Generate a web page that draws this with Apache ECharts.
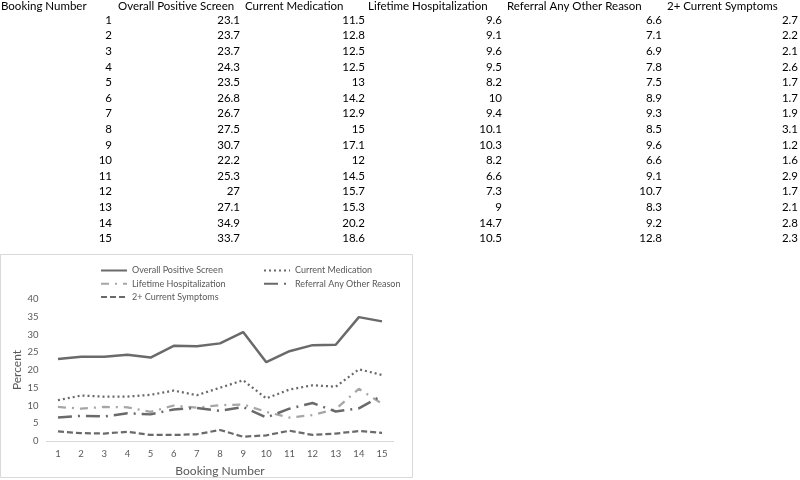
<!DOCTYPE html>
<html>
<head>
<meta charset="utf-8">
<script src="https://cdn.jsdelivr.net/npm/echarts@6/dist/echarts.min.js"></script>
<style>html,body{margin:0;padding:0;background:#fff}#c{width:800px;height:480px}</style>
</head>
<body>
<div id="c"></div>
<script>
const categories = ['1','2','3','4','5','6','7','8','9','10','11','12','13','14','15'];
const overallPositive = [23.1,23.7,23.7,24.3,23.5,26.8,26.7,27.5,30.7,22.2,25.3,27,27.1,34.9,33.7];
const currentMedication = [11.5,12.8,12.5,12.5,13,14.2,12.9,15,17.1,12,14.5,15.7,15.3,20.2,18.6];
const lifetimeHosp = [9.6,9.1,9.6,9.5,8.2,10,9.4,10.1,10.3,8.2,6.6,7.3,9,14.7,10.5];
const referralOther = [6.6,7.1,6.9,7.8,7.5,8.9,9.3,8.5,9.6,6.6,9.1,10.7,8.3,9.2,12.8];
const currentSymptoms = [2.7,2.2,2.1,2.6,1.7,1.7,1.9,3.1,1.2,1.6,2.9,1.7,2.1,2.8,2.3];
const tableHeaders = ['Booking Number','Overall Positive Screen','Current Medication','Lifetime Hospitalization','Referral Any Other Reason','2+ Current Symptoms'];
const seriesNames = ['Overall Positive Screen','Current Medication','Lifetime Hospitalization','Referral Any Other Reason','2+ Current Symptoms'];
const yTicks = [0,5,10,15,20,25,30,35,40];

const tableCols = [categories, overallPositive, currentMedication, lifetimeHosp, referralOther, currentSymptoms];
const headerX = [1, 118, 245, 368, 507, 667];
const valueRight = [112, 240, 365, 502, 662, 798];
const FONT = 'Lato, "Open Sans", sans-serif';

const graphics = [];
tableHeaders.forEach((h, i) => {
  graphics.push({type:'text', x: headerX[i], y: 6, style:{text:h, font:'11.5px '+FONT, fill:'#000', align:'left', verticalAlign:'middle'}});
});
tableCols.forEach((col, ci) => {
  col.forEach((v, ri) => {
    graphics.push({type:'text', x: valueRight[ci], y: 20 + ri*15.6, style:{text:String(v), font:'11.5px '+FONT, fill:'#000', align:'right', verticalAlign:'middle'}});
  });
});
graphics.push({type:'rect', shape:{x:0.5, y:254.5, width:412, height:223}, style:{fill:'none', stroke:'#d9d9d9', lineWidth:1}, z:-1});

const styles = [
  {color:'#6a6a6a', width:2.5, type:'solid'},
  {color:'#6a6a6a', width:2.25, type:[2,3]},
  {color:'#a6a6a6', width:2.25, type:[8,6,2,6]},
  {color:'#6a6a6a', width:2.5, type:[14,6,2,6]},
  {color:'#6a6a6a', width:2.25, type:[6,3]}
];
const dataSets = [overallPositive, currentMedication, lifetimeHosp, referralOther, currentSymptoms];

const legendCommon = {orient:'vertical', padding:0, itemWidth:26, itemHeight:13, itemGap:0.3,
  itemStyle:{opacity:0},
  textStyle:{fontFamily:FONT, fontSize:9, color:'#595959', lineHeight:13}};

const chart = echarts.init(document.getElementById('c'), null, {renderer:'canvas'});
chart.setOption({
  backgroundColor:'#fff',
  animation:false,
  graphic: graphics,
  legend: [
    Object.assign({left:100, top:264, data:[seriesNames[0], seriesNames[2], seriesNames[4]]}, legendCommon),
    Object.assign({left:263, top:264, data:[seriesNames[1], seriesNames[3]]}, legendCommon)
  ],
  grid:{left:46.4, right:406.4, top:299, bottom:39, containLabel:false},
  xAxis:{
    type:'category', data:categories, boundaryGap:true,
    name:'Booking Number', nameLocation:'middle', nameGap:24,
    nameTextStyle:{fontFamily:FONT, fontSize:12, color:'#595959'},
    axisLine:{lineStyle:{color:'#d9d9d9', width:1}},
    axisTick:{show:false},
    axisLabel:{fontFamily:FONT, fontSize:9.5, color:'#595959', margin:8},
    splitLine:{show:false}
  },
  yAxis:{
    type:'value', min:yTicks[0], max:yTicks[yTicks.length-1], interval:5,
    name:'Percent', nameLocation:'middle', nameGap:16,
    nameTextStyle:{fontFamily:FONT, fontSize:12, color:'#595959'},
    axisLine:{show:false}, axisTick:{show:false},
    axisLabel:{fontFamily:FONT, fontSize:9.5, color:'#595959', margin:8},
    splitLine:{show:false}
  },
  series: dataSets.map((d, i) => ({
    name: seriesNames[i], type:'line', data:d, symbol:'none', smooth:false,
    color: styles[i].color,
    lineStyle:{color:styles[i].color, width:styles[i].width, type:styles[i].type},
    itemStyle:{color:styles[i].color}
  }))
});
</script>
</body>
</html>
